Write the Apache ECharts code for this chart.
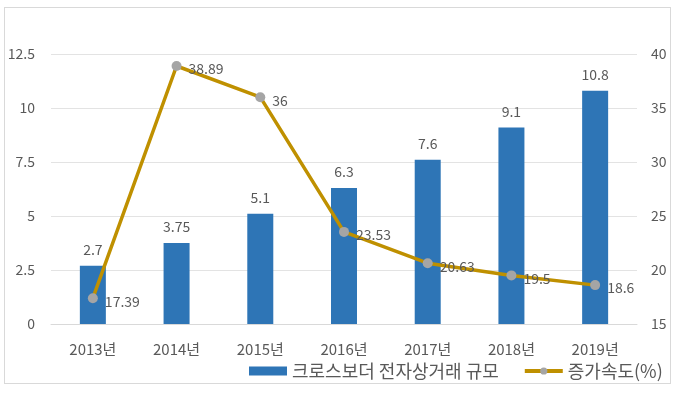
<!DOCTYPE html>
<html><head><meta charset="utf-8">
<script src="https://cdn.jsdelivr.net/npm/echarts@6/dist/echarts.min.js"></script>
<style>html,body{margin:0;padding:0;background:#fff}#c{width:680px;height:393px}
#frame{position:absolute;left:4px;top:7px;width:667px;height:377px;border:1px solid #d9d9d9;box-sizing:border-box;pointer-events:none}</style>
</head><body><div id="c"></div><div id="frame"></div>
<script>
var categories = ['2013년','2014년','2015년','2016년','2017년','2018년','2019년'];
var scaleValues = [2.7, 3.75, 5.1, 6.3, 7.6, 9.1, 10.8];
var growthValues = [17.39, 38.89, 36, 23.53, 20.63, 19.5, 18.6];
var barName = '크로스보더 전자상거래 규모';
var lineName = '증가속도(%)';
var font = '"Noto Sans CJK KR", "Noto Sans", sans-serif';
var chart = echarts.init(document.getElementById('c'));
chart.setOption({
  animation: false,
  textStyle: {fontFamily: font},
  grid: {left: 51, right: 43, top: 54, bottom: 69},
  legend: {
    left: 244, top: 357, itemGap: 24, itemWidth: 38, itemHeight: 9,
    textStyle: {fontSize: 18, color: '#595959', fontFamily: font},
    data: [{name: barName, icon: 'rect'},
           {name: lineName, lineStyle: {width: 4, color: '#BF9000'}, itemStyle: {color: '#A5A5A5'}}]
  },
  xAxis: {
    type: 'category', data: categories,
    axisLine: {show: true, lineStyle: {color: '#d9d9d9'}},
    axisTick: {show: false},
    axisLabel: {color: '#595959', fontSize: 15, margin: 18, fontFamily: font}
  },
  yAxis: [{
    type: 'value', min: 0, max: 12.5, interval: 2.5,
    axisLine: {show: false}, axisTick: {show: false},
    axisLabel: {color: '#595959', fontSize: 14, margin: 16, fontFamily: font},
    splitLine: {lineStyle: {color: '#e3e3e3'}}
  }, {
    type: 'value', min: 15, max: 40, interval: 5,
    axisLine: {show: false}, axisTick: {show: false},
    axisLabel: {color: '#595959', fontSize: 14, margin: 14, fontFamily: font},
    splitLine: {show: false}
  }],
  series: [{
    name: barName, type: 'bar', data: scaleValues, barWidth: 26,
    itemStyle: {color: '#2E75B6'},
    label: {show: true, position: 'top', distance: 9, color: '#595959', fontSize: 14, fontFamily: font}
  }, {
    name: lineName, type: 'line', yAxisIndex: 1, data: growthValues,
    symbol: 'circle', symbolSize: 10,
    lineStyle: {color: '#BF9000', width: 3.5},
    itemStyle: {color: '#A5A5A5'},
    label: {show: true, position: 'right', distance: 7, offset: [0, 3], color: '#595959', fontSize: 14, fontFamily: font},
    z: 5
  }]
});
</script></body></html>
